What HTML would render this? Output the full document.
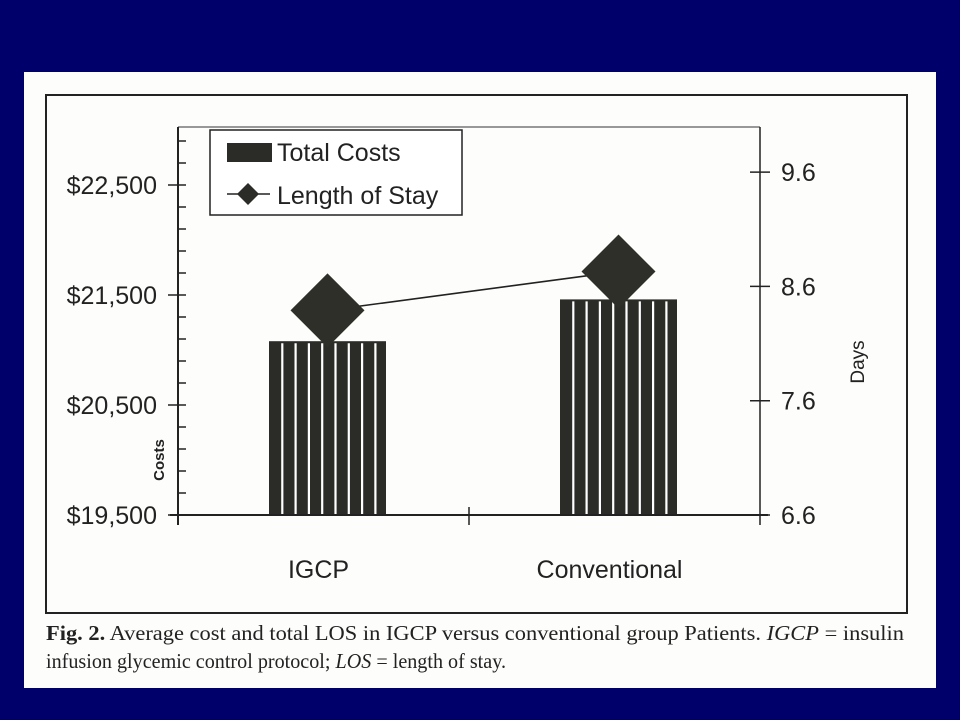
<!DOCTYPE html>
<html><head><meta charset="utf-8"><style>
html,body{margin:0;padding:0;background:#00006b;width:960px;height:720px;overflow:hidden}
svg{display:block}
</style></head><body>
<svg id="chart" width="960" height="720" xmlns="http://www.w3.org/2000/svg" font-family="Liberation Sans, sans-serif">
<rect x="0" y="0" width="960" height="720" fill="#00006b"/>
<rect x="24" y="72" width="912" height="616" fill="#fdfdfb"/>
<rect x="46" y="95" width="861" height="518" fill="none" stroke="#222" stroke-width="2"/>
<line x1="178" y1="127" x2="760" y2="127" stroke="#777" stroke-width="1.5"/>
<g id="marks"></g>
<g>
<rect x="210" y="130" width="252" height="85" fill="#fff" stroke="#222" stroke-width="1.5"/>
<g>
<rect x="227" y="143" width="45" height="19" fill="#2b2b27"/>
<text x="277" y="161" font-size="25" fill="#222">Total Costs</text>
</g>
<g>
<line x1="227" y1="194" x2="270" y2="194" stroke="#222" stroke-width="1.5"/>
<polygon points="248,183 259,194 248,205 237,194" fill="#2b2b27"/>
<text x="277" y="204" font-size="25" fill="#222">Length of Stay</text>
</g>
</g>
<text transform="translate(164,460) rotate(-90)" text-anchor="middle" font-size="15" font-weight="bold" fill="#222">Costs</text>
<text transform="translate(864,362) rotate(-90)" text-anchor="middle" font-size="19" fill="#222">Days</text>
<text font-family="Liberation Serif, serif" font-size="21" fill="#222">
<tspan x="46" y="640" textLength="858" lengthAdjust="spacingAndGlyphs"><tspan font-weight="bold">Fig. 2.</tspan> Average cost and total LOS in IGCP versus conventional group Patients. <tspan font-style="italic">IGCP</tspan> = insulin</tspan>
<tspan x="46" y="668" textLength="460" lengthAdjust="spacingAndGlyphs">infusion glycemic control protocol; <tspan font-style="italic">LOS</tspan> = length of stay.</tspan>
</text>
</svg>
<script>
const categories = ["IGCP", "Conventional"];
const costs = [21080, 21460];
const days = [8.39, 8.73];
const costTicks = [19500, 20500, 21500, 22500];
const costTickLabels = ["$19,500", "$20,500", "$21,500", "$22,500"];
const dayTicks = [6.6, 7.6, 8.6, 9.6];
const dayTickLabels = ["6.6", "7.6", "8.6", "9.6"];

const NS = "http://www.w3.org/2000/svg";
const g = document.getElementById("marks");
const X0 = 178, X1 = 760, YB = 515;
function yCost(v){ return YB - (v - 19500) * 0.110; }
function yDay(v){ return YB - (v - 6.6) * 114.3; }
function xCat(i){ return X0 + (X1 - X0) * (i + 0.5) / categories.length; }
function el(tag, attrs, parent){
  const e = document.createElementNS(NS, tag);
  for (const k in attrs) e.setAttribute(k, attrs[k]);
  (parent || g).appendChild(e);
  return e;
}
// bars
costs.forEach((c, i) => {
  const cx = xCat(i) + 4, w = 117, top = yCost(c);
  const b = el("g", {});
  
  
  el("rect", {x: cx - w/2, y: top, width: w, height: YB - top, fill: "#2b2b27"}, b);
  for (let k = 1; k <= 8; k++) {
    const sx = cx - w/2 + k * 13.3;
    el("line", {x1: sx, y1: top + 2, x2: sx, y2: YB, stroke: "#fff", "stroke-width": 2.2}, b);
  }
});
// line
const pts = days.map((d, i) => [xCat(i) + 4, yDay(d)]);
const ln = el("polyline", {points: pts.map(p => p.join(",")).join(" "), fill: "none", stroke: "#222", "stroke-width": 1.6});


pts.forEach((p, i) => {
  const r = 37;
  const d = el("polygon", {points: `${p[0]},${p[1]-r} ${p[0]+r},${p[1]} ${p[0]},${p[1]+r} ${p[0]-r},${p[1]}`, fill: "#2f2f2a"});
  
  
});
// axes
const ax = el("g", {});


el("line", {x1: X0, y1: 127, x2: X0, y2: 525, stroke: "#222", "stroke-width": 2}, ax);
el("line", {x1: X1, y1: 127, x2: X1, y2: 525, stroke: "#222", "stroke-width": 1.5}, ax);
el("line", {x1: X0 - 8, y1: YB, x2: X1 + 8, y2: YB, stroke: "#222", "stroke-width": 2}, ax);
el("line", {x1: (X0+X1)/2, y1: YB - 8, x2: (X0+X1)/2, y2: YB + 10, stroke: "#222", "stroke-width": 1.5}, ax);
for (let v = 19500; v <= 23100; v += 200) {
  const y = yCost(v);
  if (y < 128) break;
  el("line", {x1: X0, y1: y, x2: X0 + 8, y2: y, stroke: "#222", "stroke-width": 1.5}, ax);
}
costTicks.forEach((v, i) => {
  const y = yCost(v);
  el("line", {x1: X0 - 10, y1: y, x2: X0, y2: y, stroke: "#222", "stroke-width": 1.5}, ax);
  const t = el("text", {x: 157, y: y + 9, "text-anchor": "end", "font-size": 25, fill: "#222"}, ax);
  
  
  t.textContent = costTickLabels[i];
});
dayTicks.forEach((v, i) => {
  const y = yDay(v);
  el("line", {x1: X1 - 10, y1: y, x2: X1 + 10, y2: y, stroke: "#222", "stroke-width": 1.5}, ax);
  const t = el("text", {x: 781, y: y + 9, "font-size": 25, fill: "#222"}, ax);
  
  
  t.textContent = dayTickLabels[i];
});
categories.forEach((c, i) => {
  const t = el("text", {x: xCat(i) - 5, y: 578, "text-anchor": "middle", "font-size": 25, fill: "#222"}, ax);
  
  
  t.textContent = c;
});
</script>
</body></html>
